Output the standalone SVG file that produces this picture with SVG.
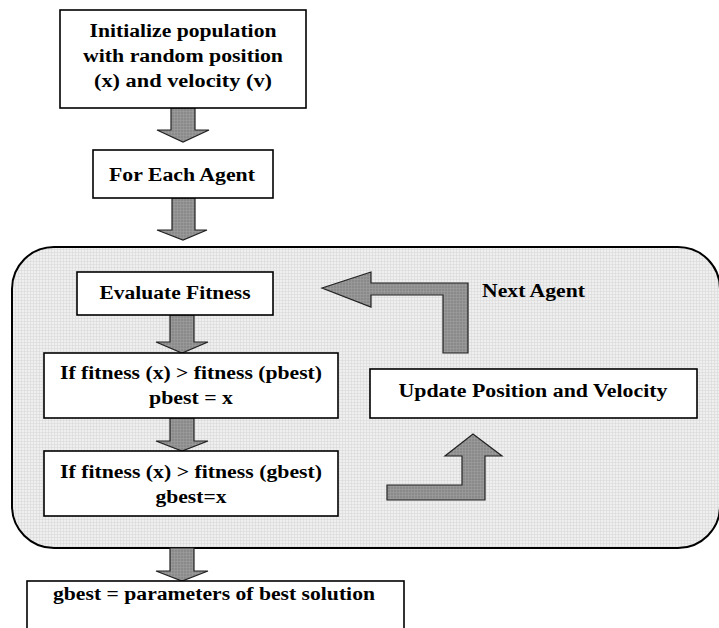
<svg xmlns="http://www.w3.org/2000/svg" width="719" height="628" viewBox="0 0 719 628">
  <defs>
    <pattern id="bgGrid" width="3" height="3" patternUnits="userSpaceOnUse">
      <rect width="3" height="3" fill="#efefef"/>
      <path d="M0 0.5H3M0.5 0V3" stroke="#d8d8d8" stroke-width="0.6"/>
    </pattern>
    <pattern id="arrGrid" width="3" height="3" patternUnits="userSpaceOnUse">
      <rect width="3" height="3" fill="#8a8a8a"/>
      <path d="M0 0.5H3M0.5 0V3" stroke="#9e9e9e" stroke-width="0.6"/>
    </pattern>
    <style>
      .box { fill: #ffffff; stroke: #000; stroke-width: 1.6; }
      .arr { fill: url(#arrGrid); stroke: #222; stroke-width: 1.2; stroke-linejoin: miter; }
      .t { font-family: "Liberation Serif", "Times New Roman", serif; font-weight: bold; font-size: 18.5px; fill: #000; text-anchor: middle; }
      .s { text-anchor: start; }
    </style>
  </defs>

  <g id="loop-region">
    <rect x="12" y="247" width="708" height="301" rx="42" ry="42" fill="url(#bgGrid)" stroke="#000" stroke-width="2"/>
  </g>

  <g id="connectors">
    <polygon class="arr" points="171,108 195,108 195,130 209,130 183,142 157,130 171,130"/>
    <polygon class="arr" points="172,198 195,198 195,230 207,230 183,240 157,230 172,230"/>
    <polygon class="arr" points="170,315 194,315 194,342 208,342 182,353 156,342 170,342"/>
    <polygon class="arr" points="170,418 194,418 194,441 208,441 182,451 156,441 170,441"/>
    <polygon class="arr" points="170,548 194,548 194,571 208,571 182,581 156,571 170,571"/>
    <polygon class="arr" points="322,288 371,272 371,283 468,283 468,353 443,353 443,295 371,295 371,307"/>
    <polygon class="arr" points="387,485 462,485 462,456 445,456 473,434 502,456 485,456 485,500 387,500"/>
  </g>

  <g id="init">
    <rect class="box" x="60" y="10" width="246" height="98"/>
    <text class="t" x="183" y="37" textLength="187" lengthAdjust="spacingAndGlyphs">Initialize population</text>
    <text class="t" x="183" y="62" textLength="200" lengthAdjust="spacingAndGlyphs">with random position</text>
    <text class="t" x="183" y="87" textLength="178" lengthAdjust="spacingAndGlyphs">(x) and velocity (v)</text>
  </g>

  <g id="for-each">
    <rect class="box" x="93" y="150" width="180" height="48"/>
    <text class="t" x="182" y="181" textLength="146" lengthAdjust="spacingAndGlyphs">For Each Agent</text>
  </g>

  <g id="evaluate">
    <rect class="box" x="77" y="272" width="196" height="43"/>
    <text class="t" x="175" y="299" textLength="151" lengthAdjust="spacingAndGlyphs">Evaluate Fitness</text>
  </g>

  <g id="pbest">
    <rect class="box" x="44" y="353" width="294" height="65"/>
    <text class="t" x="191" y="379" textLength="262" lengthAdjust="spacingAndGlyphs">If fitness (x) &gt; fitness (pbest)</text>
    <text class="t" x="191" y="404" textLength="84" lengthAdjust="spacingAndGlyphs">pbest = x</text>
  </g>

  <g id="gbest">
    <rect class="box" x="44" y="451" width="294" height="65"/>
    <text class="t" x="191" y="478" textLength="262" lengthAdjust="spacingAndGlyphs">If fitness (x) &gt; fitness (gbest)</text>
    <text class="t" x="191" y="503" textLength="71" lengthAdjust="spacingAndGlyphs">gbest=x</text>
  </g>

  <g id="update">
    <rect class="box" x="370" y="369" width="327" height="49"/>
    <text class="t" x="533" y="397" textLength="269" lengthAdjust="spacingAndGlyphs">Update Position and Velocity</text>
  </g>

  <g id="next-agent-label">
    <text class="t s" x="482" y="297" textLength="103" lengthAdjust="spacingAndGlyphs">Next Agent</text>
  </g>

  <g id="result">
    <rect class="box" x="27" y="581" width="377" height="60"/>
    <text class="t" x="214" y="600" textLength="322" lengthAdjust="spacingAndGlyphs">gbest = parameters of best solution</text>
  </g>
</svg>
